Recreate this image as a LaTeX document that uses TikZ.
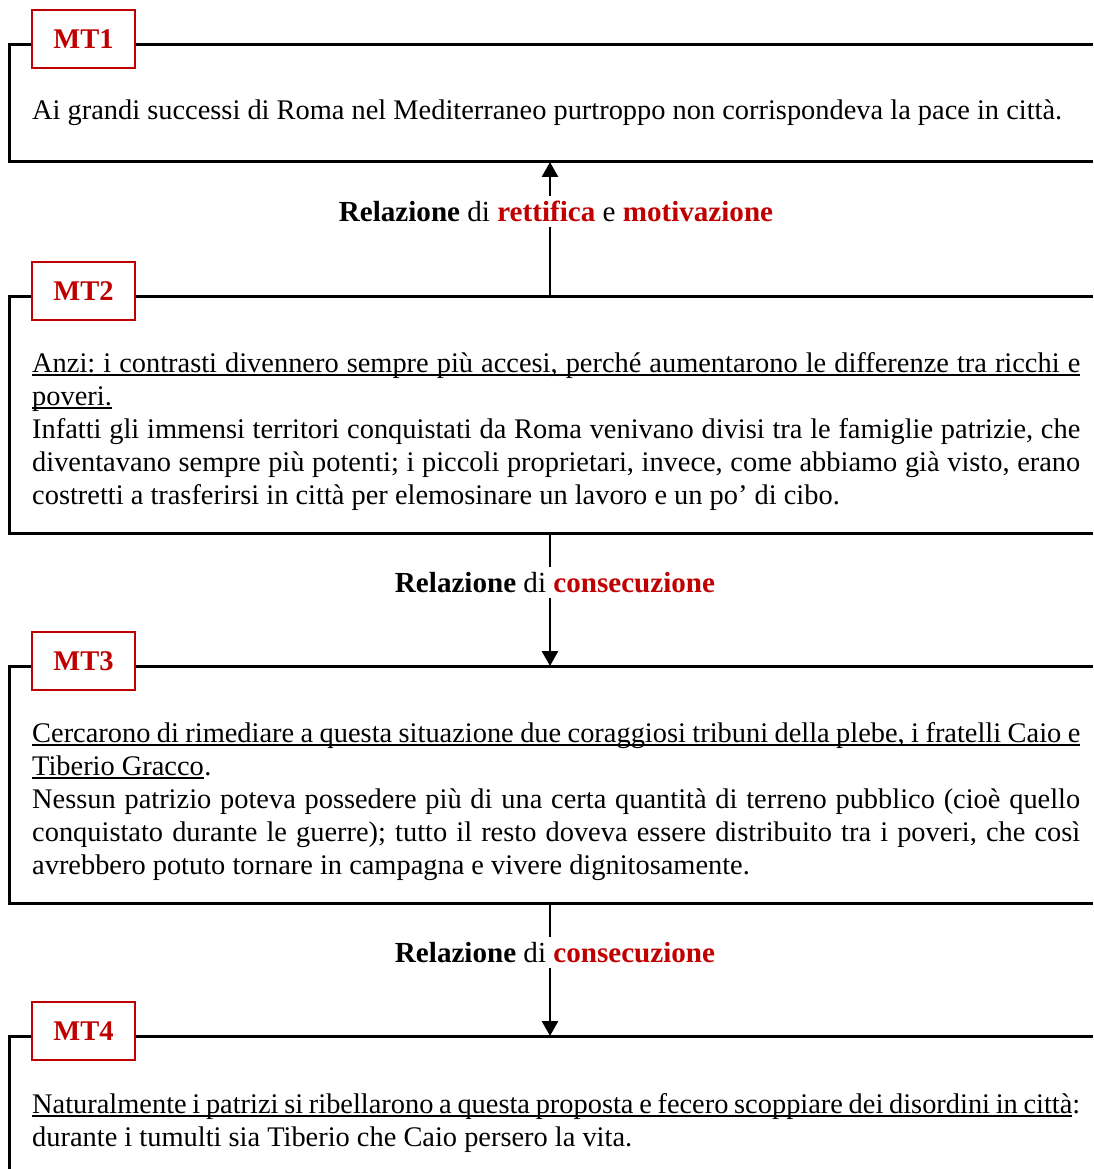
\documentclass[tikz,border=0pt]{standalone}
\usepackage{fontspec}
\setmainfont{Liberation Serif}
\usetikzlibrary{arrows.meta}
\definecolor{mtred}{HTML}{C00000}
\frenchspacing
\newcommand{\rd}[1]{\textcolor{mtred}{\textbf{#1}}}
\newcommand{\jl}[1]{\makebox[1048pt][s]{#1}}
\tikzset{
  frame/.style={line width=3pt},
  tag/.style={draw=mtred, line width=2.6pt, fill=white, minimum width=103pt,
    minimum height=58pt, inner sep=0pt, text=mtred, font=\bfseries\fontsize{28.5}{32}\selectfont},
  body/.style={anchor=base west, inner sep=0pt, font=\fontsize{28.4}{33}\selectfont\frenchspacing},
  rel/.style={anchor=base, inner xsep=2pt, inner ysep=5pt, font=\fontsize{29.1}{32}\selectfont},
  conn/.style={line width=2.8pt},
  arr/.style={conn, -{Triangle[length=15pt,width=16pt]}},
  ul/.style={line width=1.8pt},
}
\begin{document}
\begin{tikzpicture}[x=1pt,y=-1pt]
\useasboundingbox (0,0) rectangle (1093,1169);
% frames
\draw[frame] (1093,45) -- (9,45) -- (9,162) -- (1093,162);
\draw[frame] (1093,296) -- (9,296) -- (9,533) -- (1093,533);
\draw[frame] (1093,666) -- (9,666) -- (9,903) -- (1093,903);
\draw[frame] (1093,1036) -- (9,1036) -- (9,1175);
% tags
\node[tag] (mt1) at (83.5,39) {MT1};
\node[tag] (mt2) at (83.5,291) {MT2};
\node[tag] (mt3) at (83.5,661) {MT3};
\node[tag] (mt4) at (83.5,1031) {MT4};
% MT1 text
\node[body] (l11) at (32,120) {Ai grandi successi di Roma nel Mediterraneo purtroppo non corrispondeva la pace in città.};
% MT2 text
\node[body] (l21) at (32,372) {\jl{Anzi: i contrasti divennero sempre più accesi, perché aumentarono le differenze tra ricchi e}};
\node[body] (l22) at (32,405) {poveri.};
\node[body] (l23) at (32,438) {\jl{Infatti gli immensi territori conquistati da Roma venivano divisi tra le famiglie patrizie, che}};
\node[body] (l24) at (32,471) {\jl{diventavano sempre più potenti; i piccoli proprietari, invece, come abbiamo già visto, erano}};
\node[body] (l25) at (32,504) {costretti a trasferirsi in città per elemosinare un lavoro e un po’ di cibo.};
% MT3 text
\node[body] (l31) at (32,742) {\jl{Cercarono di rimediare a questa situazione due coraggiosi tribuni della plebe, i fratelli Caio e}};
\node[body] (l32) at (32,775) {Tiberio Gracco};
\node[body, anchor=base west] (l32p) at (l32.base east) {.};
\node[body] (l33) at (32,808) {\jl{Nessun patrizio poteva possedere più di una certa quantità di terreno pubblico (cioè quello}};
\node[body] (l34) at (32,841) {\jl{conquistato durante le guerre); tutto il resto doveva essere distribuito tra i poveri, che così}};
\node[body] (l35) at (32,874) {avrebbero potuto tornare in campagna e vivere dignitosamente.};
% MT4 text
\node[body] (l41) at (32,1113) {\jl{Naturalmente i patrizi si ribellarono a questa proposta e fecero scoppiare dei disordini in città:}};
\node[body] (l42) at (32,1146) {durante i tumulti sia Tiberio che Caio persero la vita.};
% underlines
\draw[ul] ([yshift=-3pt]l21.base west) -- ([yshift=-3pt]l21.base east);
\draw[ul] ([yshift=-3pt]l22.base west) -- ([yshift=-3pt]l22.base east);
\draw[ul] ([yshift=-3pt]l31.base west) -- ([yshift=-3pt]l31.base east);
\draw[ul] ([yshift=-3pt]l32.base west) -- ([yshift=-3pt]l32.base east);
\draw[ul] ([yshift=-3pt]l41.base west) -- ([yshift=-3pt,xshift=-8pt]l41.base east);
% connectors
\coordinate (b1) at (550,162);
\coordinate (b2n) at (550,296);
\coordinate (b2s) at (550,533);
\coordinate (b3n) at (550,666);
\coordinate (b3s) at (550,903);
\coordinate (b4n) at (550,1036);
\node[rel] (r1) at (556,222) {\textbf{Relazione} di \rd{rettifica} e \rd{motivazione}};
\node[rel] (r2) at (555,592) {\textbf{Relazione} di \rd{consecuzione}};
\node[rel] (r3) at (555,962) {\textbf{Relazione} di \rd{consecuzione}};
\draw[conn] (b2n) -- (r1.south -| b2n);
\draw[arr] (r1.north -| b1) -- (b1);
\draw[conn] (b2s) -- (r2.north -| b2s);
\draw[arr] (r2.south -| b3n) -- (b3n);
\draw[conn] (b3s) -- (r3.north -| b3s);
\draw[arr] (r3.south -| b4n) -- (b4n);
\end{tikzpicture}
\end{document}
